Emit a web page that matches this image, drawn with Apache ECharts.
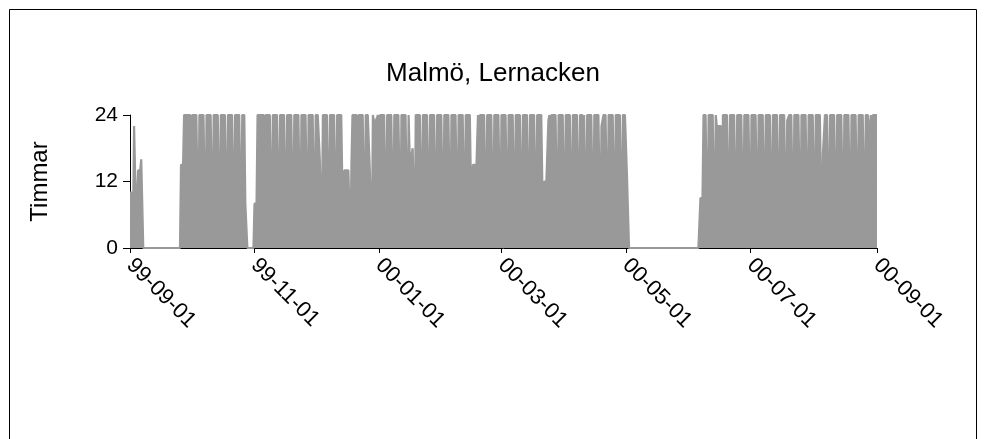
<!DOCTYPE html>
<html><head><meta charset="utf-8">
<script src="https://cdn.jsdelivr.net/npm/echarts@6/dist/echarts.min.js"></script>
<style>html,body{margin:0;padding:0;background:#fff}#c{width:986px;height:439px}</style>
</head><body><div id="c"></div>
<script>
const chartTitle = 'Malmö, Lernacken';
const yAxisName = 'Timmar';
const yTickValues = [0, 12, 24];
const xTickLabels = ['99-09-01','99-11-01','00-01-01','00-03-01','00-05-01','00-07-01','00-09-01'];
const xTickDates = [[1999,9,1],[1999,11,1],[2000,1,1],[2000,3,1],[2000,5,1],[2000,7,1],[2000,9,1]];
const seriesStart = [1999,9,1];
const stepHours = 12;
// hours, one value per 12 h, one row = one week
const hoursValues = [
10,10,10,5,22,22,5,5,14,14,14,16,16,0,
0,0,0,0,0,0,0,0,0,0,0,0,0,0,
0,0,0,0,0,0,0,0,0,0,0,0,0,0,
0,0,0,0,0,0,0,0,15,15,15,24,24,24,
24,24,24,24,0,24,24,24,24,24,24,0,24,24,
24,24,24,24,0,24,24,24,24,24,24,0,24,24,
24,24,24,24,0,24,24,24,24,24,24,0,24,24,
24,24,24,24,0,24,24,24,24,24,24,0,24,24,
24,8,8,0,0,0,0,0,0,0,8,8,8,24,
24,24,24,24,24,24,0,24,24,24,24,24,24,0,
24,24,24,24,24,24,0,24,24,24,24,24,24,0,
24,24,24,24,24,24,0,24,24,24,24,24,24,0,
24,24,24,24,24,24,0,24,24,24,24,24,24,0,
24,24,24,24,16,16,0,24,24,24,24,24,24,0,
24,24,24,24,24,24,0,24,24,24,24,24,24,0,
14,14,14,14,14,14,0,15,24,24,24,24,24,0,
24,24,24,24,24,24,0,24,24,24,24,14,14,0,
24,23,23,23,23,24,0,24,24,24,24,24,24,0,
24,24,24,24,24,24,0,24,24,24,24,24,24,0,
24,24,24,24,24,24,0,24,17,17,17,18,18,0,
24,24,24,24,24,24,0,24,24,24,24,24,24,0,
24,24,24,24,24,24,0,24,24,24,24,24,24,0,
24,24,24,24,24,24,0,24,24,24,24,24,24,0,
24,24,24,24,24,24,0,24,24,24,24,24,24,0,
15,15,15,12,12,24,0,24,24,24,24,24,24,0,
24,24,24,24,24,24,0,24,24,24,24,24,24,0,
24,24,24,24,24,24,0,24,24,24,24,24,24,0,
24,24,24,24,24,24,0,24,24,24,24,24,24,0,
24,24,24,24,24,24,0,24,24,24,24,24,24,0,
12,12,12,12,23,24,0,24,24,24,24,24,24,0,
24,24,24,24,24,24,0,24,24,24,24,24,24,0,
24,24,24,24,24,24,0,24,24,24,23,24,24,0,
24,24,24,24,24,24,0,24,24,24,24,24,24,0,
22,22,24,24,24,24,0,24,24,24,24,24,24,0,
24,24,24,24,24,24,0,24,24,24,24,13,13,0,
0,0,0,0,0,0,0,0,0,0,0,0,0,0,
0,0,0,0,0,0,0,0,0,0,0,0,0,0,
0,0,0,0,0,0,0,0,0,0,0,0,0,0,
0,0,0,0,0,0,0,0,0,0,0,0,0,0,
0,0,0,0,0,0,0,0,0,0,0,0,0,9,
9,9,24,24,24,24,0,24,24,24,24,24,24,0,
24,22,22,22,22,22,0,24,24,24,24,24,24,0,
24,24,24,24,24,24,0,24,24,24,24,24,24,0,
24,24,24,24,24,24,0,24,24,24,24,24,24,0,
24,24,24,24,24,24,0,24,24,24,24,24,24,0,
24,24,24,24,24,24,0,24,24,24,24,24,24,0,
23,23,24,24,24,24,0,24,24,24,24,24,24,0,
24,24,24,24,24,24,0,24,24,24,24,24,24,0,
24,24,24,24,24,24,0,17,17,24,24,24,24,0,
24,24,24,24,24,24,0,24,24,24,24,24,24,0,
24,24,24,24,24,24,0,24,24,24,24,24,24,0,
24,24,24,24,24,24,0,24,24,24,20,20,24,0,
24,24,24,24,24
];

const FONT = 'Liberation Sans, Arial, sans-serif';
const DAY = 86400000;
const t0 = Date.UTC(seriesStart[0], seriesStart[1]-1, seriesStart[2]);
// x = days since series start
const seriesData = hoursValues.map((v, i) => [i*stepHours/24, v]);
const tickDays = xTickDates.map(d => Math.round((Date.UTC(d[0], d[1]-1, d[2]) - t0) / DAY));

const chart = echarts.init(document.getElementById('c'), null, {renderer: 'canvas'});
chart.setOption({
  animation: false,
  backgroundColor: '#fff',
  title: {text: chartTitle, left: 'center', top: 56,
    textStyle: {fontFamily: FONT, fontSize: 26, fontWeight: 'normal', color: '#000'}},
  grid: {left: 130, right: 109, top: 115, bottom: 191},
  xAxis: {
    type: 'value', min: tickDays[0], max: tickDays[tickDays.length-1],
    axisLine: {show: true, lineStyle: {color: '#000', width: 1}},
    axisTick: {show: true, customValues: tickDays, length: 5, lineStyle: {color: '#000'}},
    axisLabel: {customValues: tickDays, rotate: -45, margin: 14,
      formatter: v => { const k = tickDays.indexOf(Math.round(v)); return k >= 0 ? xTickLabels[k] : ''; },
      fontFamily: FONT, fontSize: 22, color: '#000'},
    splitLine: {show: false}
  },
  yAxis: {
    type: 'value', min: yTickValues[0], max: yTickValues[yTickValues.length-1], interval: 12,
    name: yAxisName, nameLocation: 'middle', nameRotate: 90, nameGap: 78,
    nameTextStyle: {fontFamily: FONT, fontSize: 24, color: '#000'},
    axisLine: {show: true, lineStyle: {color: '#000', width: 1}},
    axisTick: {show: true, length: 7, lineStyle: {color: '#000'}},
    axisLabel: {fontFamily: FONT, fontSize: 21, color: '#000', margin: 12},
    splitLine: {show: false}
  },
  series: [{
    type: 'line', data: seriesData, showSymbol: false, smooth: false,
    lineStyle: {color: '#999999', width: 2.2, join: 'bevel'},
    itemStyle: {color: '#999999'},
    areaStyle: {color: '#999999', opacity: 1}
  }],
  graphic: [{type: 'rect', silent: true, shape: {x: 9.5, y: 9.5, width: 967, height: 445},
    style: {fill: null, stroke: '#000', lineWidth: 1}}]
});
</script></body></html>
